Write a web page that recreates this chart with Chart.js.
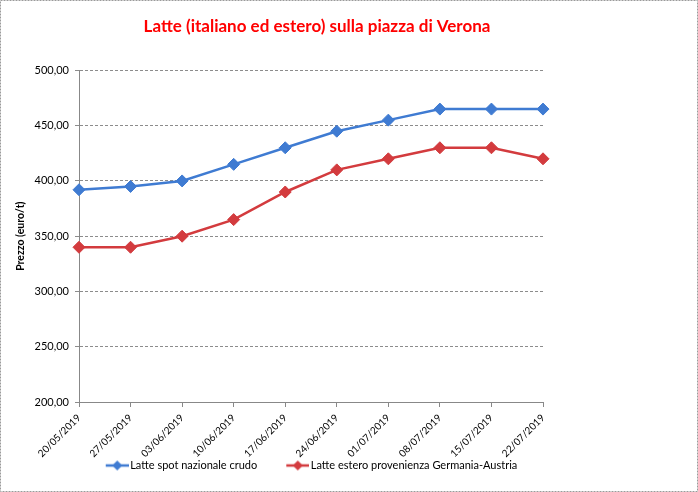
<!DOCTYPE html>
<html>
<head>
<meta charset="utf-8">
<script src="https://cdn.jsdelivr.net/npm/chart.js@4/dist/chart.umd.min.js"></script>
<style>
html,body{margin:0;padding:0;background:#fff;}
#wrap{width:698px;height:492px;position:relative;}
</style>
</head>
<body>
<div id="wrap"><canvas id="c" width="698" height="492"></canvas></div>
<script>
const categories = ["20/05/2019","27/05/2019","03/06/2019","10/06/2019","17/06/2019","24/06/2019","01/07/2019","08/07/2019","15/07/2019","22/07/2019"];
const seriesNames = ["Latte spot nazionale crudo","Latte estero provenienza Germania-Austria"];
const latteNazionale = [392,395,400,415,430,445,455,465,465,465];
const latteEstero = [340,340,350,365,390,410,420,430,430,420];
const yTicks = [200,250,300,350,400,450,500];

const BLUE = '#3f7bd2';
const RED = '#d33b3e';
const FONT = 'Lato, "Open Sans", sans-serif';

// legend icon: transparent lead-in (item spacing) + line with diamond, slightly overflowing the box on the right
const LEG_BOX = 43, LEG_LEAD = 24, LEG_OVER = 4;
function legendIcon(color){
  const cv = document.createElement('canvas');
  cv.width = LEG_BOX + 2*LEG_OVER; cv.height = 12;
  const g = cv.getContext('2d');
  const x0 = LEG_OVER + LEG_LEAD, x1 = cv.width, xc = (x0 + x1)/2;
  g.strokeStyle = color; g.lineWidth = 2.5;
  g.beginPath(); g.moveTo(x0,6); g.lineTo(x1,6); g.stroke();
  g.fillStyle = color;
  g.beginPath(); g.moveTo(xc,1); g.lineTo(xc+5,6); g.lineTo(xc,11); g.lineTo(xc-5,6); g.closePath(); g.fill();
  return cv;
}
const icons = [legendIcon(BLUE), legendIcon(RED)];

const borderPlugin = {
  id:'outerBorder',
  afterDraw(chart){
    const ctx = chart.ctx;
    ctx.save();
    ctx.strokeStyle = '#9a9a9a';
    ctx.lineWidth = 1;
    ctx.setLineDash([2,1]);
    ctx.strokeRect(0.5,0.5,chart.width-1,chart.height-1);
    ctx.restore();
  }
};
const bgPlugin = {
  id:'bg',
  beforeDraw(chart){
    const ctx = chart.ctx;
    ctx.save(); ctx.fillStyle='#fff'; ctx.fillRect(0,0,chart.width,chart.height); ctx.restore();
  }
};
// nudge legend row and title horizontally to where the original places them
const boxShift = {
  id:'boxShift',
  afterLayout(chart){
    const lg = chart.legend;
    if (lg) { lg.left = 56; lg.right = 543; }
    const tb = chart.titleBlock;
    if (tb) { tb.left = 91; tb.right = 543; }
  }
};

new Chart(document.getElementById('c'), {
  type:'line',
  data:{
    labels: categories,
    datasets:[
      {label: seriesNames[0], data: latteNazionale, borderColor: BLUE, backgroundColor: BLUE, borderWidth: 2.5, pointStyle:'rectRot', pointRadius:6, pointHoverRadius:6, pointBackgroundColor: BLUE, pointBorderColor: BLUE, pointBorderWidth:1, tension:0},
      {label: seriesNames[1], data: latteEstero, borderColor: RED, backgroundColor: RED, borderWidth: 2.5, pointStyle:'rectRot', pointRadius:6, pointHoverRadius:6, pointBackgroundColor: RED, pointBorderColor: RED, pointBorderWidth:1, tension:0}
    ]
  },
  options:{
    responsive:false,
    animation:false,
    devicePixelRatio:1,
    layout:{padding:{left:8, right:155, top:0, bottom:11}},
    plugins:{
      title:{display:true, text:'Latte (italiano ed estero) sulla piazza di Verona', color:'#ff0000', font:{family:FONT, size:17, weight:'bold'}, padding:{top:16, bottom:34}, fullSize:false},
      legend:{position:'bottom', fullSize:false,
        labels:{usePointStyle:true, boxWidth:LEG_BOX, boxHeight:12, pointStyleWidth:LEG_BOX, padding:5, color:'#000', font:{family:FONT, size:11},
          generateLabels(chart){
            return chart.data.datasets.map((ds,i)=>({text: ds.label, pointStyle: icons[i], fillStyle: ds.borderColor, strokeStyle: ds.borderColor, lineWidth:0, hidden:false, datasetIndex:i}));
          }
        }
      },
      tooltip:{enabled:false}
    },
    scales:{
      x:{
        offset:false,
        grid:{display:true, drawOnChartArea:false, drawTicks:true, tickLength:5, color:'#888'},
        border:{display:true, color:'#888', width:1},
        ticks:{color:'#000', font:{family:FONT, size:10}, minRotation:45, maxRotation:45, padding:5, autoSkip:false},
        afterFit(scale){ scale.height = 53; scale._computeLabelArea = () => undefined; }
      },
      y:{
        min:200, max:500,
        afterBuildTicks(scale){ scale.ticks = yTicks.map(v=>({value:v})); },
        grid:{color:'#8c8c8c', lineWidth:1, tickLength:4, drawTicks:true},
        border:{display:true, color:'#888', width:1, dash:[3,2]},
        ticks:{color:'#000', font:{family:FONT, size:11}, padding:6,
          callback(v){ return Number(v).toFixed(2).replace('.', ','); }},
        title:{display:true, text:'Prezzo (euro/t)', color:'#000', font:{family:FONT, size:10.5, weight:'bold'}, padding:{top:6,bottom:0}},
        afterFit(scale){ scale.width = 71; }
      }
    }
  },
  plugins:[bgPlugin, borderPlugin, boxShift]
});
</script>
</body>
</html>
